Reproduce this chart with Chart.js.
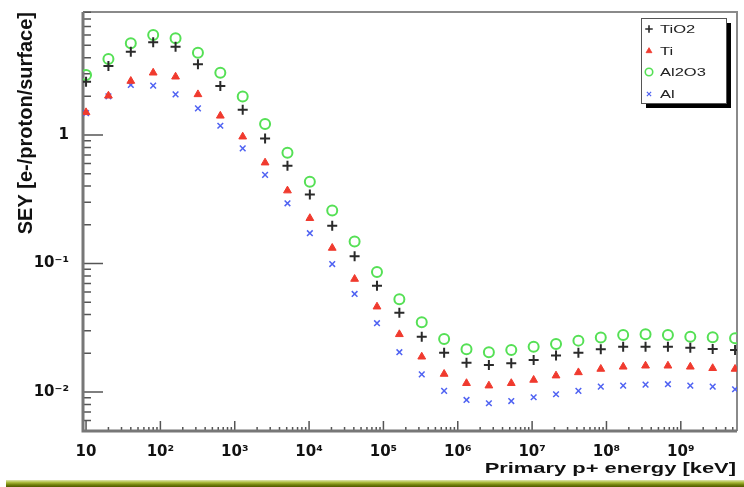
<!DOCTYPE html>
<html>
<head>
<meta charset="utf-8">
<title>SEY vs primary proton energy</title>
<script src="https://cdn.jsdelivr.net/npm/chart.js@4.4.1/dist/chart.umd.min.js"></script>
<style>
    html, body { margin: 0; padding: 0; background: #fff; }
    #wrap { position: relative; width: 744px; height: 487px; overflow: hidden; }
    #band {
        position: absolute; left: 6px; right: 0; top: 480px; height: 7px;
        background: linear-gradient(to bottom, #dfe8b0 0%, #a9bb3c 35%, #6e7f08 70%, #4f5a00 100%);
    }
</style>
</head>
<body>
<div id="wrap">
    <canvas id="seyChart" width="744" height="487"></canvas>
    <div id="band"></div>
</div>
<script>
// primary proton energy [keV]
const energies = [10, 20, 40, 80, 160, 320, 640, 1280, 2560, 5120, 10240, 20480, 40960, 81920,
    163840, 327680, 655360, 1310720, 2621440, 5242880, 10485760, 20971520, 41943040, 83886080,
    167772160, 335544320, 671088640, 1342177280, 2684354560, 5368709120];

// SEY [e-/proton/surface]
const tio2 = [2.60, 3.44, 4.45, 5.26, 4.86, 3.55, 2.41, 1.57, 0.94, 0.577, 0.345, 0.197, 0.114, 0.067,
    0.0414, 0.0269, 0.0202, 0.0169, 0.0162, 0.0167, 0.0177, 0.0192, 0.0202, 0.0215, 0.0225, 0.0225,
    0.0225, 0.0221, 0.0216, 0.0212];
const ti = [1.50, 2.02, 2.63, 3.05, 2.84, 2.07, 1.41, 0.97, 0.609, 0.369, 0.225, 0.132, 0.0757, 0.0461,
    0.0281, 0.0188, 0.0138, 0.0117, 0.0112, 0.0117, 0.0124, 0.0134, 0.0142, 0.0151, 0.0157, 0.0160,
    0.0160, 0.0157, 0.0153, 0.0151];
const al2o3 = [2.93, 3.90, 5.17, 6.00, 5.65, 4.37, 3.05, 1.99, 1.22, 0.728, 0.433, 0.258, 0.148, 0.0859,
    0.0526, 0.0349, 0.0258, 0.0215, 0.0204, 0.0212, 0.0225, 0.0236, 0.0251, 0.0265, 0.0278, 0.0281,
    0.0278, 0.0269, 0.0267, 0.0262];
const al = [1.48, 2.00, 2.45, 2.42, 2.07, 1.61, 1.18, 0.787, 0.489, 0.294, 0.172, 0.099, 0.0579, 0.0343,
    0.0204, 0.0137, 0.0102, 0.00867, 0.00817, 0.0085, 0.0091, 0.0096, 0.0102, 0.0110, 0.0112, 0.0114,
    0.0115, 0.0112, 0.0110, 0.0105];

const xTickValues = [10, 1e2, 1e3, 1e4, 1e5, 1e6, 1e7, 1e8, 1e9];
const xTickLabels = ['10', '10\u00B2', '10\u00B3', '10\u2074', '10\u2075', '10\u2076', '10\u2077', '10\u2078', '10\u2079'];
const yTickValues = [0.01, 0.1, 1];
const yTickLabels = ['10\u207B\u00B2', '10\u207B\u00B9', '1'];

const xTitle = 'Primary p+ energy [keV]';
const yTitle = 'SEY [e-/proton/surface]';

const FONT = '"Liberation Sans", Arial, Helvetica, sans-serif';
const TICK_FONT = '"DejaVu Sans", "Liberation Sans", sans-serif';

function toPoints(values) {
    return energies.map(function(e, i) { return { x: e, y: values[i] }; });
}

// text squeezed/stretched horizontally, the picture was scaled wider than tall
function wideText(ctx, text, x, y, font, sx, align) {
    ctx.save();
    ctx.font = font;
    ctx.textBaseline = 'middle';
    ctx.textAlign = 'left';
    const w = ctx.measureText(text).width * sx;
    const x0 = align === 'right' ? x - w : x;
    ctx.translate(x0, y);
    ctx.scale(sx, 1);
    ctx.fillText(text, 0, 0);
    ctx.restore();
}

// inward ticks and frame, ROOT style
const framePlugin = {
    id: 'frame',
    beforeDatasetsDraw: function(chart) {
        const ctx = chart.ctx;
        const a = chart.chartArea;
        const xs = chart.scales.x;
        const ys = chart.scales.y;
        ctx.save();

        ctx.strokeStyle = '#8a8a8a';
        ctx.lineWidth = 2;
        ctx.beginPath();
        ctx.moveTo(a.left, a.top);
        ctx.lineTo(a.right, a.top);
        ctx.lineTo(a.right, a.bottom);
        ctx.stroke();

        ctx.strokeStyle = '#555';
        ctx.lineWidth = 1.5;
        ctx.beginPath();
        for (let d = 0; d <= 10; d++) {
            for (let m = 1; m <= 9; m++) {
                const v = m * Math.pow(10, d);
                if (v < xs.min || v > xs.max) continue;
                const px = xs.getPixelForValue(v);
                const len = m === 1 ? 10 : 4;
                ctx.moveTo(px, a.bottom);
                ctx.lineTo(px, a.bottom - len);
            }
        }
        for (let d = -3; d <= 1; d++) {
            for (let m = 1; m <= 9; m++) {
                const v = m * Math.pow(10, d);
                if (v < ys.min || v > ys.max) continue;
                const py = ys.getPixelForValue(v);
                const len = m === 1 ? 20 : 8;
                ctx.moveTo(a.left, py);
                ctx.lineTo(a.left + len, py);
            }
        }
        ctx.stroke();

        ctx.strokeStyle = '#777';
        ctx.lineWidth = 3;
        ctx.beginPath();
        ctx.moveTo(a.left, a.top);
        ctx.lineTo(a.left, a.bottom);
        ctx.lineTo(a.right, a.bottom);
        ctx.stroke();
        ctx.restore();

        ctx.fillStyle = '#111';
        wideText(ctx, xTitle, a.right - 1, 469, 'bold 15px ' + FONT, 1.46, 'right');
    }
};

// boxed legend with drop shadow in the top right corner
const boxLegendPlugin = {
    id: 'boxLegend',
    afterDraw: function(chart) {
        const ctx = chart.ctx;
        const bx = 641, by = 18, bw = 85, bh = 85;
        ctx.save();
        ctx.fillStyle = '#000';
        ctx.fillRect(bx + 5, by + 5, bw, bh);
        ctx.fillStyle = '#fff';
        ctx.fillRect(bx, by, bw, bh);
        ctx.strokeStyle = '#555';
        ctx.lineWidth = 1;
        ctx.strokeRect(bx + 0.5, by + 0.5, bw, bh);

        const rows = [29, 51, 72, 94];
        chart.data.datasets.forEach(function(ds, i) {
            ctx.strokeStyle = ds.borderColor;
            ctx.fillStyle = ds.backgroundColor;
            ctx.lineWidth = ds.borderWidth * 0.8;
            Chart.helpers.drawPoint(ctx, {
                pointStyle: ds.pointStyle,
                radius: ds.pointRadius * 0.75,
                rotation: 0,
                borderWidth: ds.borderWidth * 0.8
            }, 649, rows[i]);
            ctx.fillStyle = '#222';
            wideText(ctx, ds.label, 660, rows[i] + 0.5, '11px ' + FONT, 1.5, 'left');
        });
        ctx.restore();
    }
};

function initChart() {
    const canvas = document.getElementById('seyChart');

    new Chart(canvas, {
        type: 'scatter',
        data: {
            datasets: [{
                label: 'TiO2',
                data: toPoints(tio2),
                pointStyle: 'cross',
                pointRadius: 5,
                borderWidth: 2,
                borderColor: '#2a2a2a',
                backgroundColor: '#2a2a2a'
            }, {
                label: 'Ti',
                data: toPoints(ti),
                pointStyle: 'triangle',
                pointRadius: 4.5,
                borderWidth: 1,
                borderColor: '#f03a2e',
                backgroundColor: '#f03a2e'
            }, {
                label: 'Al2O3',
                data: toPoints(al2o3),
                pointStyle: 'circle',
                pointRadius: 5,
                borderWidth: 2,
                borderColor: '#55e055',
                backgroundColor: 'rgba(0,0,0,0)'
            }, {
                label: 'Al',
                data: toPoints(al),
                pointStyle: 'crossRot',
                pointRadius: 4,
                borderWidth: 1.5,
                borderColor: '#4f62f2',
                backgroundColor: '#4f62f2'
            }]
        },
        options: {
            responsive: false,
            animation: false,
            layout: {
                padding: { left: 14, top: 12, right: 4, bottom: 7 }
            },
            plugins: {
                legend: { display: false },
                tooltip: { enabled: false }
            },
            scales: {
                x: {
                    type: 'logarithmic',
                    min: 9.1,
                    max: 5.7e9,
                    grid: { display: false, drawTicks: false },
                    border: { display: false },
                    afterBuildTicks: function(scale) {
                        scale.ticks = xTickValues.map(function(v) { return { value: v }; });
                    },
                    afterFit: function(scale) {
                        scale.height = 49;
                        scale.paddingLeft = 0;
                        scale.paddingRight = 0;
                    },
                    ticks: {
                        autoSkip: false,
                        maxRotation: 0,
                        padding: 12,
                        color: '#111',
                        font: { family: TICK_FONT, size: 15, weight: 'bold' },
                        callback: function(value) {
                            const i = xTickValues.indexOf(value);
                            return i >= 0 ? xTickLabels[i] : '';
                        }
                    },
                    title: { display: false }
                },
                y: {
                    type: 'logarithmic',
                    min: 0.00497,
                    max: 9.06,
                    grid: { display: false, drawTicks: false },
                    border: { display: false },
                    afterBuildTicks: function(scale) {
                        scale.ticks = yTickValues.map(function(v) { return { value: v }; });
                    },
                    afterFit: function(scale) {
                        scale.width = 69;
                        scale.paddingTop = 0;
                        scale.paddingBottom = 0;
                    },
                    ticks: {
                        autoSkip: false,
                        padding: 14,
                        color: '#111',
                        font: { family: TICK_FONT, size: 15, weight: 'bold' },
                        callback: function(value) {
                            const i = yTickValues.indexOf(value);
                            return i >= 0 ? yTickLabels[i] : '';
                        }
                    },
                    title: {
                        display: true,
                        text: yTitle,
                        align: 'end',
                        color: '#111',
                        padding: { top: 0, bottom: 0 },
                        font: { family: FONT, size: 20, weight: 'bold' }
                    }
                }
            }
        },
        plugins: [framePlugin, boxLegendPlugin]
    });
}

initChart();
</script>
</body>
</html>
